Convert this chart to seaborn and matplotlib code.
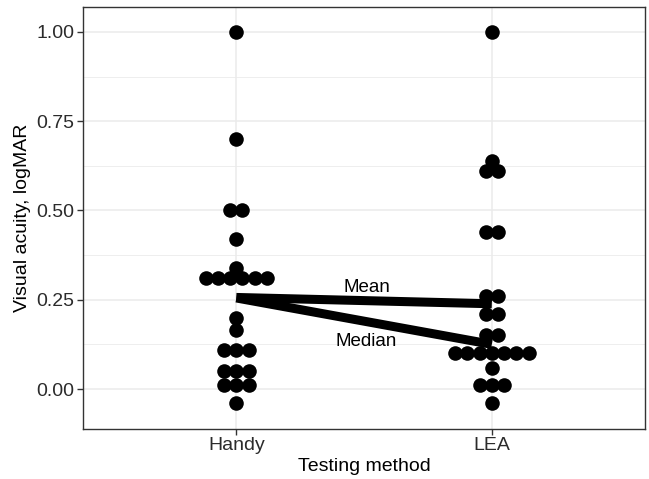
import numpy as np
import pandas as pd
import matplotlib
matplotlib.use("Agg")
import matplotlib.pyplot as plt
import seaborn as sns

# visual acuity readings (logMAR)
methods = ["Handy", "LEA"]
handy_va = [1.00, 0.70, 0.50, 0.50, 0.42, 0.34,
            0.31, 0.31, 0.31, 0.31, 0.31, 0.31,
            0.20, 0.165, 0.11, 0.11, 0.11,
            0.05, 0.05, 0.05, 0.01, 0.01, 0.01, -0.04]
lea_va = [1.00, 0.64, 0.61, 0.61, 0.44, 0.44, 0.26, 0.26,
          0.21, 0.21, 0.15, 0.15,
          0.10, 0.10, 0.10, 0.10, 0.10, 0.10, 0.10,
          0.06, 0.01, 0.01, 0.01, -0.04]
y_ticks = [0.0, 0.25, 0.5, 0.75, 1.0]

df = pd.DataFrame({
    "method": ["Handy"] * len(handy_va) + ["LEA"] * len(lea_va),
    "va": handy_va + lea_va,
})
df["code"] = df["method"].map({m: i for i, m in enumerate(methods)})

# centered dot stacking, like a dotplot with stackdir="center"
dot_w = 0.048
grp = df.groupby(["method", "va"])["va"]
df["k"] = grp.cumcount()
df["n"] = grp.transform("count")
df["x"] = df["code"] + (df["k"] - (df["n"] - 1) / 2) * dot_w

summary = df.groupby("code")["va"].agg(["mean", "median"]).reset_index()

sns.set_theme(style="white")
plt.rcParams["font.family"] = ["Liberation Sans", "DejaVu Sans"]

fig = plt.figure(figsize=(6.49, 4.79), dpi=100)
ax = fig.add_axes([0.128, 0.1044, 0.866, 0.8810])

# grid like theme_bw
for v in np.arange(-0.125, 1.2, 0.125):
    major = abs((v / 0.25) - round(v / 0.25)) < 1e-6
    ax.axhline(v, color="#EBEBEB", lw=1.1 if major else 0.6, zorder=0)
for c in range(len(methods)):
    ax.axvline(c, color="#EBEBEB", lw=1.1, zorder=0)

sns.lineplot(data=summary, x="code", y="mean", color="black", lw=6.5,
             ax=ax, zorder=2, solid_capstyle="butt")
sns.lineplot(data=summary, x="code", y="median", color="black", lw=6.5,
             ax=ax, zorder=2, solid_capstyle="butt")

sns.scatterplot(data=df, x="x", y="va", color="black", s=110, linewidth=0,
                ax=ax, zorder=3)

ax.text(0.51, 0.283, "Mean", ha="center", va="center", fontsize=13.5, color="black")
ax.text(0.51, 0.133, "Median", ha="center", va="center", fontsize=13.5, color="black")

ax.set_xlim(-0.6, 1.6)
ax.set_ylim(-0.112, 1.07)
ax.set_xticks(range(len(methods)))
ax.set_xticklabels(methods)
ax.set_yticks(y_ticks)
ax.set_yticklabels([f"{t:.2f}" for t in y_ticks])
ax.tick_params(axis="both", length=4, width=1.0, color="#333333",
               labelsize=14, labelcolor="#2B2B2B", pad=2,
               bottom=True, left=True)
ax.set_xlabel("Testing method", fontsize=14, color="black", labelpad=3)
ax.set_ylabel("Visual acuity, logMAR", fontsize=14, color="black", labelpad=4)
for s in ax.spines.values():
    s.set_color("#333333")
    s.set_linewidth(1.0)
    s.set_visible(True)

fig.savefig("out.png", dpi=100)
